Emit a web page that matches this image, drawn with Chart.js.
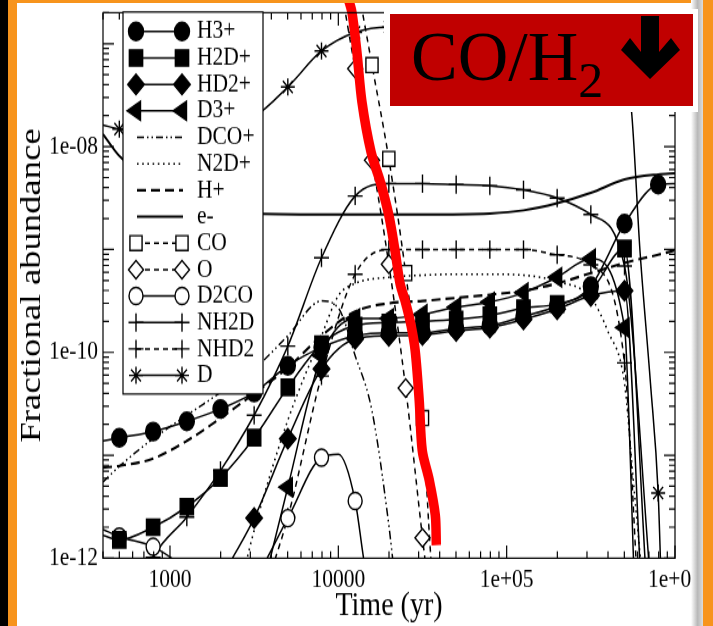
<!DOCTYPE html>
<html><head><meta charset="utf-8">
<script src="https://cdn.jsdelivr.net/npm/chart.js@4.4.1/dist/chart.umd.min.js"></script>
<style>
html,body{margin:0;padding:0;width:713px;height:626px;overflow:hidden;background:#fff}
#wrap{position:absolute;left:0;top:0;width:713px;height:513px;transform:scaleY(1.22027);transform-origin:0 0}
#c{display:block}
.ov{position:absolute;pointer-events:none}
</style></head>
<body>
<div id="wrap"><canvas id="c" width="713" height="513"></canvas></div>
<div class="ov" style="left:0;top:0;width:8px;height:626px;background:#000"></div>
<div class="ov" style="left:8px;top:0;width:9px;height:626px;background:#f7941d"></div>
<div class="ov" style="left:17px;top:0;width:696px;height:3px;background:#f7941d"></div>
<div class="ov" style="left:691px;top:0;width:12px;height:626px;background:linear-gradient(to right,#fff,#b8b8b8 55%,#dcdcdc)"></div>
<div class="ov" style="left:703px;top:0;width:10px;height:626px;background:#f7941d"></div>
<svg class="ov" style="left:0;top:0" width="713" height="626">
 <rect x="384" y="9" width="314" height="103" fill="#fff"/>
 <rect x="390" y="14" width="303" height="92" fill="#c00000"/>
 <text x="411" y="80" font-family="Liberation Serif" font-size="70" fill="#000">CO/H<tspan font-size="50" dy="17">2</tspan></text>
 <polygon points="641,16 659,16 659,52 671,38 680,50 650,79 621,50 630,38 641,52" fill="#000"/>
</svg>
<script>
const S = 626 / 513;

// ---- axis definitions ----
const xTickValues = [1000, 10000, 100000, 1000000];
const xTickLabels = ['1000', '10000', '1e+05', '1e+06'];
const yTickValues = [1e-12, 1e-10, 1e-8];
const yTickLabels = ['1e-12', '1e-10', '1e-08'];
const xTitle = 'Time (yr)';
const yTitle = 'Fractional abundance';

// ---- data (time in yr, fractional abundance) ----
const timeGrid = [400, 500, 794, 1259, 1995, 3162, 5012, 7943, 12589, 19953, 31623, 50119, 79433, 125893, 199526, 316228, 501187, 794328, 1000000];

const h3pTimes = timeGrid;
const h3pValues = [1.38e-11, 1.48e-11, 1.70e-11, 2.14e-11, 2.82e-11, 4.07e-11, 7.41e-11, 1.12e-10, 1.45e-10, 1.55e-10, 1.55e-10, 1.70e-10, 1.82e-10, 2.24e-10, 2.82e-10, 4.4e-10, 1.78e-9, 4.27e-9, 4.37e-9];

const h2dpTimes = [400, 500, 794, 1259, 1995, 3162, 5012, 7943, 12589, 19953, 31623, 50119, 79433, 125893, 199526, 316228, 501187, 680000];
const h2dpValues = [1.66e-12, 1.51e-12, 2.0e-12, 3.16e-12, 6.03e-12, 1.48e-11, 4.57e-11, 1.20e-10, 1.82e-10, 1.95e-10, 2.0e-10, 2.09e-10, 2.29e-10, 2.69e-10, 2.95e-10, 4.0e-10, 1.02e-9, 5e-13];

const hd2pTimes = [1995, 3162, 5012, 7943, 12589, 19953, 31623, 50119, 79433, 125893, 199526, 316228, 501187, 630000];
const hd2pValues = [6.3e-13, 2.45e-12, 1.45e-11, 6.9e-11, 1.35e-10, 1.45e-10, 1.48e-10, 1.62e-10, 1.74e-10, 2.09e-10, 2.63e-10, 3.55e-10, 3.98e-10, 5e-13];

const d3pTimes = [3162, 5012, 7943, 12589, 19953, 31623, 50119, 79433, 125893, 199526, 316228, 501187, 575000];
const d3pValues = [2.3e-13, 4.9e-12, 9.3e-11, 2.14e-10, 2.14e-10, 2.34e-10, 2.75e-10, 3.09e-10, 3.80e-10, 5.37e-10, 8.13e-10, 1.74e-10, 5e-13];

const dcopTimes = [400, 500, 794, 1259, 1995, 3162, 5012, 7943, 10000, 12589, 15849, 19953, 21500];
const dcopValues = [5.5e-12, 7.8e-12, 1.45e-11, 2.45e-11, 4.07e-11, 6.9e-11, 1.45e-10, 3.16e-10, 2.7e-10, 9.3e-11, 2.7e-11, 2.1e-12, 7.1e-13];

const n2dpTimes = [2512, 3162, 5012, 7943, 10000, 12589, 19953, 31623, 50119, 79433, 125893, 199526, 316228, 398107, 501187, 562341, 630957];
const n2dpValues = [4e-13, 1.86e-12, 2.19e-11, 1.45e-10, 3.55e-10, 4.68e-10, 5.37e-10, 5.62e-10, 5.75e-10, 5.75e-10, 5.62e-10, 4.9e-10, 3.39e-10, 1.62e-10, 5.0e-11, 6.3e-12, 7.9e-13];

const hpTimes = timeGrid;
const hpValues = [7.6e-12, 7.9e-12, 9.3e-12, 1.38e-11, 2.29e-11, 3.98e-11, 7.1e-11, 1.45e-10, 2.5e-10, 3.0e-10, 3.16e-10, 3.39e-10, 3.63e-10, 3.98e-10, 4.68e-10, 5.89e-10, 7.41e-10, 8.9e-10, 9.8e-10];

const elecTimes = [400, 500, 794, 1259, 1995, 3162, 10000, 31623, 79433, 125893, 199526, 316228, 501187, 794328, 1000000];
const elecValues = [1.32e-8, 8.1e-9, 4.6e-9, 2.95e-9, 2.45e-9, 2.24e-9, 2.19e-9, 2.19e-9, 2.24e-9, 2.4e-9, 2.82e-9, 3.55e-9, 4.79e-9, 5.37e-9, 5.5e-9];

const coTimes = [12589, 15849, 19953, 25119, 31623, 35481, 39811];
const coValues = [5e-7, 6.2e-8, 7.6e-9, 5.9e-10, 2.3e-11, 1e-12, 1.6e-13];

const oTimes = [10000, 12589, 15849, 19953, 25119, 31623, 35481];
const oValues = [5e-7, 5.7e-8, 7.4e-9, 7.2e-10, 4.5e-11, 1.58e-12, 3.2e-13];

const d2coTimes = [400, 500, 794, 1259, 1995, 3162, 5012, 7943, 10000, 12589, 14125, 15849];
const d2coValues = [1.9e-12, 1.62e-12, 1.29e-12, 7.8e-13, 4e-13, 6.3e-13, 2.45e-12, 9.5e-12, 1.02e-11, 3.6e-12, 1.0e-12, 3.2e-13];

const nh2dTimes = [631, 794, 1259, 1995, 3162, 5012, 7943, 12589, 19953, 31623, 50119, 79433, 125893, 199526, 316228, 501187, 720000];
const nh2dValues = [4e-13, 1.02e-12, 2.51e-12, 7.1e-12, 2.45e-11, 1.15e-10, 8.3e-10, 3.31e-9, 4.37e-9, 4.37e-9, 4.27e-9, 4.17e-9, 3.8e-9, 3.16e-9, 2.19e-9, 6.9e-10, 5e-13];

const nhd2Times = [3162, 5012, 7943, 12589, 19953, 31623, 50119, 79433, 125893, 199526, 316228, 501187, 600000];
const nhd2Values = [2.5e-13, 2.5e-12, 5.9e-11, 5.75e-10, 1.0e-9, 1.0e-9, 1.0e-9, 1.0e-9, 1.0e-9, 8.9e-10, 7.1e-10, 7.9e-11, 5e-13];

const dTimes = [400, 500, 794, 1259, 1995, 3162, 5012, 7943, 12589, 19953, 31623, 50119, 79433, 125893, 199526, 316228, 501187, 550000, 620000, 715000, 794328, 830000];
const dValues = [1.62e-8, 1.48e-8, 1.41e-8, 1.41e-8, 1.58e-8, 1.95e-8, 3.8e-8, 8.5e-8, 1.29e-7, 1.45e-7, 1.38e-7, 1.26e-7, 1.12e-7, 1.0e-7, 7.9e-8, 6.3e-8, 4.5e-8, 2.34e-8, 9.5e-10, 5.0e-11, 4.3e-12, 5e-13];

// hand-drawn red CO/H2 freeze-out trace
const redTimes = [11395, 12040, 12895, 13810, 15630, 17940, 20020, 21740, 23290, 24950, 27090, 28620, 30240, 31520, 34700, 37680, 38210];
const redValues = [2.83e-7, 2.03e-7, 8.32e-8, 2.73e-8, 8.95e-9, 4.29e-9, 2.10e-9, 9.64e-10, 4.62e-10, 3.16e-10, 1.81e-10, 1.04e-10, 3.40e-11, 1.11e-11, 5.71e-12, 2.62e-12, 1.34e-12];

const seriesNames = ['H3+', 'H2D+', 'HD2+', 'D3+', 'DCO+', 'N2D+', 'H+', 'e-', 'CO', 'O', 'D2CO', 'NH2D', 'NHD2', 'D'];
const seriesData = [
  [h3pTimes, h3pValues], [h2dpTimes, h2dpValues], [hd2pTimes, hd2pValues], [d3pTimes, d3pValues],
  [dcopTimes, dcopValues], [n2dpTimes, n2dpValues], [hpTimes, hpValues], [elecTimes, elecValues],
  [coTimes, coValues], [oTimes, oValues], [d2coTimes, d2coValues], [nh2dTimes, nh2dValues],
  [nhd2Times, nhd2Values], [dTimes, dValues]
];

// ---- styles ----
const styles = {
  'H3+':  {marker: 'circle', r: 7.5, fill: true, grid: 'odd'},
  'H2D+': {marker: 'rect', r: 9.4, fill: true, grid: 'odd'},
  'HD2+': {marker: 'rectRot', r: 8.3, fill: true, grid: 'odd'},
  'D3+':  {marker: 'triangle', rot: -90, r: 9, fill: true, grid: 'odd'},
  'DCO+': {dash: [7, 3, 1.5, 3, 1.5, 3]},
  'N2D+': {dash: [1.6, 3.6], width: 1.6},
  'H+':   {dash: [9, 5], width: 2.1},
  'e-':   {width: 2},
  'CO':   {marker: 'rect', r: 8.6, fill: false, dash: [5, 4], grid: 'tenth'},
  'O':    {marker: 'rectRot', r: 7.5, fill: false, dash: [5, 4], grid: 'tenth'},
  'D2CO': {marker: 'circle', r: 7, fill: false, grid: 'odd'},
  'NH2D': {marker: 'cross', r: 7.5, fill: false, grid: 'odd'},
  'NHD2': {marker: 'cross', r: 7.5, fill: false, dash: [5, 4], grid: 'odd'},
  'D':    {marker: 'star', r: 7, fill: false, grid: 'odd'}
};

function marked(t, grid) {
  const l = Math.log10(t);
  const k = grid === 'tenth' ? l / 0.1 : (l - 0.1) / 0.2;
  return Math.abs(k - Math.round(k)) < 0.03 && t < 990000;
}

const datasets = [{
  label: 'CO/H2', inLegend: false,
  data: redTimes.map((t, i) => ({x: t, y: redValues[i]})),
  showLine: true, borderColor: '#ff0000', borderWidth: 9.5, pointRadius: 0,
  tension: 0.3, clip: false, borderCapStyle: 'butt', borderJoinStyle: 'round'
}];
seriesNames.forEach((name, i) => {
  const st = styles[name];
  const [times, vals] = seriesData[i];
  datasets.push({
    label: name, st: st,
    data: times.map((t, j) => ({x: t, y: vals[j]})),
    showLine: true,
    borderColor: '#000',
    borderWidth: st.width || 1.5,
    borderDash: st.dash || [],
    backgroundColor: st.fill ? '#000' : '#fff',
    pointStyle: st.marker || 'circle',
    pointRotation: st.rot || 0,
    pointRadius: c => (st.marker && c.raw && marked(c.raw.x, st.grid)) ? st.r : 0,
    pointBorderWidth: 1.4,
    pointBorderColor: '#000',
    pointBackgroundColor: st.fill ? '#000' : '#fff',
    cubicInterpolationMode: 'monotone',
    fill: false
  });
});

// ---- plugins ----
function drawMarker(ctx, style, x, y, r, fill, rot) {
  ctx.save();
  ctx.beginPath();
  ctx.lineWidth = 1.4; ctx.setLineDash([]);
  ctx.strokeStyle = '#000'; ctx.fillStyle = fill ? '#000' : '#fff';
  if (style === 'circle') { ctx.arc(x, y, r, 0, Math.PI * 2); ctx.fill(); ctx.stroke(); }
  else if (style === 'rect') { const h = r * Math.SQRT1_2; ctx.rect(x - h, y - h, 2 * h, 2 * h); ctx.fill(); ctx.stroke(); }
  else if (style === 'rectRot') { ctx.moveTo(x, y - r); ctx.lineTo(x + r, y); ctx.lineTo(x, y + r); ctx.lineTo(x - r, y); ctx.closePath(); ctx.fill(); ctx.stroke(); }
  else if (style === 'triangle') { ctx.moveTo(x - r, y); ctx.lineTo(x + r * 0.5, y - r * 0.866); ctx.lineTo(x + r * 0.5, y + r * 0.866); ctx.closePath(); ctx.fill(); ctx.stroke(); }
  else if (style === 'cross') { ctx.moveTo(x - r, y); ctx.lineTo(x + r, y); ctx.moveTo(x, y - r); ctx.lineTo(x, y + r); ctx.stroke(); }
  else if (style === 'star') { ctx.moveTo(x - r, y); ctx.lineTo(x + r, y); ctx.moveTo(x, y - r); ctx.lineTo(x, y + r);
    const d = r * Math.SQRT1_2; ctx.moveTo(x - d, y - d); ctx.lineTo(x + d, y + d); ctx.moveTo(x - d, y + d); ctx.lineTo(x + d, y - d); ctx.stroke(); }
  ctx.restore();
}

const framePlugin = {
  id: 'frame',
  afterDatasetsDraw(chart) {
    const {ctx, chartArea: a, scales: {x, y}} = chart;
    ctx.save();
    ctx.strokeStyle = '#000'; ctx.lineWidth = 1.2; ctx.setLineDash([]);
    ctx.beginPath();
    for (let d = 2; d <= 6; d++) for (let m = 1; m < 10; m++) {
      const v = m * Math.pow(10, d);
      if (v < x.min - 1e-9 || v > x.max * 1.0001) continue;
      const px = x.getPixelForValue(v);
      const L = m === 1 ? 10.5 : 5.7;
      ctx.moveTo(px, a.bottom); ctx.lineTo(px, a.bottom - L);
      ctx.moveTo(px, a.top); ctx.lineTo(px, a.top + L);
    }
    for (let d = -12; d <= -7; d++) for (let m = 1; m < 10; m++) {
      const v = m * Math.pow(10, d);
      if (v < y.min * 0.9999 || v > y.max * 1.0001) continue;
      const py = y.getPixelForValue(v);
      const L = m === 1 ? 11 : 6;
      ctx.moveTo(a.left, py); ctx.lineTo(a.left + L, py);
      ctx.moveTo(a.right, py); ctx.lineTo(a.right - L, py);
    }
    ctx.stroke();
    ctx.strokeRect(a.left, a.top, a.right - a.left, a.bottom - a.top);
    ctx.restore();
  }
};

const legendPlugin = {
  id: 'customLegend',
  afterDraw(chart) {
    const ctx = chart.ctx;
    const L = 123, R = 263, T = 12 / S, B = 394 / S;
    ctx.save();
    ctx.fillStyle = '#fff'; ctx.fillRect(L, T, R - L, B - T);
    ctx.strokeStyle = '#000'; ctx.lineWidth = 1.2; ctx.setLineDash([]);
    ctx.strokeRect(L, T, R - L, B - T);
    const items = chart.data.datasets.filter(ds => ds.inLegend !== false);
    items.forEach((ds, k) => {
      const st = ds.st;
      const yy = (31.5 + 26.45 * k) / S;
      const x0 = st.marker ? 136 : 137, x1 = st.marker ? 182 : 183;
      ctx.save();
      ctx.beginPath();
      ctx.strokeStyle = '#000'; ctx.lineWidth = st.width || 1.5;
      ctx.setLineDash(st.dash || []);
      ctx.moveTo(x0, yy); ctx.lineTo(x1, yy); ctx.stroke();
      ctx.restore();
      if (st.marker) {
        drawMarker(ctx, st.marker, x0, yy, st.r, st.fill, st.rot);
        drawMarker(ctx, st.marker, x1, yy, st.r, st.fill, st.rot);
      }
      ctx.fillStyle = '#000';
      ctx.font = "21.5px 'Liberation Serif', serif";
      ctx.textBaseline = 'middle'; ctx.textAlign = 'left';
      ctx.fillText(ds.label, 197, yy);
    });
    ctx.restore();
  }
};

const tickFont = {family: "'Liberation Serif', serif", size: 21.5};

new Chart(document.getElementById('c').getContext('2d'), {
  type: 'scatter',
  data: {datasets},
  options: {
    responsive: false, animation: false, devicePixelRatio: 1, events: [],
    layout: {padding: {left: 0, right: 38, top: 9, bottom: 0}},
    plugins: {legend: {display: false}, tooltip: {enabled: false}},
    scales: {
      x: {
        type: 'logarithmic', position: 'bottom', min: 400, max: 1000000,
        grid: {display: false, drawTicks: false}, border: {display: false},
        ticks: {autoSkip: false, maxRotation: 0, padding: 5, color: '#000', font: tickFont,
          callback: v => { const i = xTickValues.indexOf(v); return i >= 0 ? xTickLabels[i] : ''; }},
        afterBuildTicks: s => { s.ticks = xTickValues.map(v => ({value: v})); },
        afterFit: s => { s.height = 55.6; s.paddingLeft = 0; s.paddingRight = 0; },
        title: {display: true, text: xTitle, color: '#000', font: {family: "'Liberation Serif', serif", size: 28}, padding: {top: 0, bottom: 0}}
      },
      y: {
        type: 'logarithmic', position: 'left', min: 1e-12, max: 2e-7,
        grid: {display: false, drawTicks: false}, border: {display: false},
        ticks: {autoSkip: false, padding: 5, color: '#000', font: tickFont,
          callback: v => { const i = yTickValues.indexOf(v); return i >= 0 ? yTickLabels[i] : ''; }},
        afterBuildTicks: s => { s.ticks = yTickValues.map(v => ({value: v})); },
        afterFit: s => { s.width = 103; s.paddingTop = 0; s.paddingBottom = 0; },
        title: {display: true, text: yTitle, color: '#000', font: {family: "'Liberation Serif', serif", size: 30}, padding: {top: 14, bottom: 0}}
      }
    }
  },
  plugins: [framePlugin, legendPlugin]
});
</script>
</body></html>
